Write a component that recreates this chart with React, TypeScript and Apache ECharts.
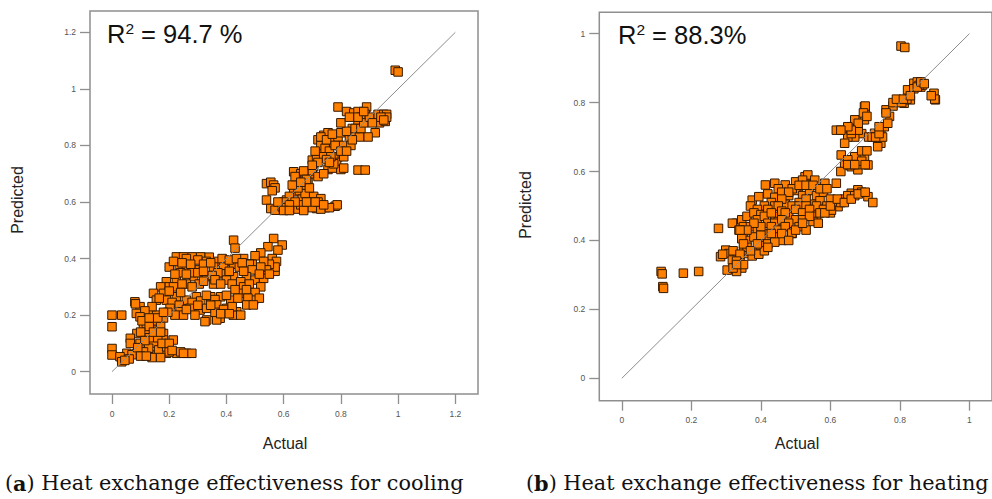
import React, { useEffect, useRef } from "react";
import * as echarts from "echarts";

// ---------- data ----------
const leftTicks = [0, 0.2, 0.4, 0.6, 0.8, 1, 1.2];
const rightTicks = [0, 0.2, 0.4, 0.6, 0.8, 1];
const leftDiag = [[0, 0], [1.2, 1.2]];
const rightDiag = [[0, 0], [1, 1]];
const leftR2 = "94.7 %";
const rightR2 = "88.3%";
const captionA = ") Heat exchange effectiveness for cooling";
const captionB = ") Heat exchange effectiveness for heating";

// [actual, predicted] – cooling
const leftPoints = [
  [0.99, 1.066], [1.0, 1.06],
  [0.79, 0.936], [0.82, 0.92], [0.845, 0.915], [0.86, 0.92], [0.89, 0.936], [0.885, 0.91], [0.87, 0.9],
  [0.93, 0.91], [0.95, 0.91], [0.96, 0.91], [0.935, 0.88], [0.955, 0.885], [0.96, 0.9], [0.92, 0.845],
  [0.895, 0.83], [0.86, 0.885], [0.84, 0.86],
  [0.74, 0.836], [0.755, 0.845], [0.72, 0.82], [0.73, 0.8], [0.725, 0.77], [0.745, 0.79], [0.76, 0.78],
  [0.775, 0.81], [0.79, 0.83], [0.8, 0.845], [0.82, 0.85], [0.83, 0.82], [0.85, 0.84], [0.865, 0.83],
  [0.81, 0.8], [0.835, 0.8], [0.79, 0.76], [0.805, 0.765], [0.785, 0.74], [0.755, 0.715], [0.77, 0.72],
  [0.8, 0.715], [0.81, 0.72], [0.86, 0.713], [0.885, 0.713], [0.7, 0.748], [0.705, 0.725], [0.715, 0.75],
  [0.775, 0.735], [0.81, 0.76], [0.74, 0.76], [0.765, 0.76],
  [0.73, 0.83], [0.75, 0.82], [0.77, 0.84], [0.78, 0.8], [0.8, 0.78], [0.82, 0.78], [0.84, 0.82],
  [0.85, 0.86], [0.87, 0.86], [0.88, 0.88], [0.9, 0.9], [0.91, 0.88], [0.94, 0.9], [0.95, 0.89],
  [0.8, 0.88], [0.83, 0.9], [0.86, 0.9], [0.88, 0.92], [0.75, 0.75], [0.76, 0.74], [0.72, 0.74], [0.71, 0.78],
  [0.635, 0.707], [0.66, 0.7], [0.675, 0.69], [0.645, 0.677], [0.685, 0.67], [0.69, 0.7], [0.7, 0.71],
  [0.54, 0.665], [0.555, 0.67], [0.565, 0.66], [0.57, 0.65], [0.56, 0.64], [0.635, 0.636], [0.655, 0.64],
  [0.665, 0.61], [0.61, 0.607], [0.635, 0.583], [0.705, 0.62], [0.73, 0.612], [0.68, 0.583], [0.715, 0.577],
  [0.745, 0.58], [0.78, 0.585], [0.787, 0.59], [0.54, 0.607], [0.555, 0.577], [0.57, 0.571], [0.595, 0.583],
  [0.61, 0.571], [0.65, 0.575], [0.66, 0.59], [0.69, 0.6], [0.7, 0.58], [0.73, 0.575], [0.76, 0.58],
  [0.62, 0.62], [0.6, 0.6], [0.64, 0.6], [0.675, 0.63], [0.72, 0.6], [0.67, 0.66], [0.65, 0.65], [0.69, 0.65],
  [0.6, 0.58], [0.62, 0.59], [0.58, 0.6], [0.63, 0.66], [0.64, 0.69], [0.67, 0.71], [0.7, 0.73],
  [0.68, 0.68], [0.66, 0.67], [0.72, 0.69], [0.74, 0.7], [0.71, 0.6], [0.74, 0.59], [0.67, 0.57],
  [0.6, 0.57], [0.62, 0.57], [0.68, 0.6],
  [0.425, 0.465], [0.43, 0.437],
  [0.565, 0.471], [0.595, 0.448], [0.58, 0.43], [0.545, 0.442], [0.52, 0.42], [0.5, 0.41], [0.56, 0.4],
  [0.575, 0.39], [0.57, 0.355], [0.57, 0.37], [0.55, 0.38], [0.53, 0.39], [0.51, 0.36], [0.49, 0.38], [0.54, 0.36],
  [0.225, 0.406], [0.25, 0.406], [0.28, 0.406], [0.31, 0.406], [0.34, 0.405], [0.26, 0.4], [0.3, 0.395],
  [0.33, 0.39], [0.37, 0.39], [0.4, 0.39], [0.44, 0.39], [0.46, 0.4], [0.47, 0.38],
  [0.2, 0.37], [0.235, 0.375], [0.26, 0.37], [0.305, 0.36], [0.355, 0.37], [0.39, 0.375], [0.425, 0.38],
  [0.445, 0.37], [0.48, 0.38], [0.49, 0.36], [0.52, 0.37], [0.425, 0.336], [0.47, 0.336], [0.38, 0.346],
  [0.33, 0.336], [0.285, 0.336], [0.225, 0.324], [0.19, 0.318], [0.2, 0.3], [0.26, 0.31], [0.305, 0.31],
  [0.355, 0.31], [0.4, 0.324], [0.45, 0.318], [0.5, 0.324], [0.37, 0.35], [0.41, 0.355], [0.28, 0.35],
  [0.24, 0.35], [0.35, 0.34],
  [0.215, 0.39], [0.245, 0.385], [0.275, 0.38], [0.32, 0.38], [0.345, 0.385], [0.385, 0.4], [0.41, 0.395],
  [0.435, 0.4], [0.455, 0.385], [0.3, 0.35], [0.32, 0.355], [0.26, 0.345], [0.22, 0.345], [0.215, 0.3],
  [0.245, 0.31], [0.28, 0.3], [0.32, 0.32], [0.36, 0.325], [0.38, 0.31], [0.42, 0.31], [0.46, 0.3],
  [0.48, 0.31], [0.17, 0.3], [0.53, 0.33], [0.55, 0.345], [0.515, 0.345], [0.46, 0.355], [0.52, 0.3], [0.5, 0.28],
  [0.145, 0.277], [0.18, 0.277], [0.155, 0.253], [0.19, 0.253], [0.225, 0.265], [0.26, 0.253], [0.295, 0.265],
  [0.345, 0.265], [0.38, 0.265], [0.415, 0.253], [0.45, 0.277], [0.495, 0.253], [0.515, 0.26], [0.2, 0.285],
  [0.24, 0.28], [0.47, 0.29], [0.43, 0.29],
  [0.165, 0.26], [0.21, 0.245], [0.235, 0.235], [0.28, 0.245], [0.31, 0.25], [0.33, 0.27], [0.36, 0.255],
  [0.4, 0.27], [0.44, 0.26], [0.475, 0.26],
  [0.098, 0.23], [0.085, 0.206], [0.133, 0.212], [0.156, 0.2], [0.203, 0.224], [0.238, 0.212], [0.273, 0.224],
  [0.308, 0.218], [0.331, 0.224], [0.366, 0.236], [0.401, 0.224], [0.436, 0.212], [0.471, 0.236], [0.494, 0.236],
  [0.331, 0.183], [0.378, 0.189], [0.424, 0.2], [0.325, 0.177], [0.366, 0.183], [0.25, 0.2], [0.29, 0.2],
  [0.18, 0.19], [0.36, 0.21], [0.45, 0.2], [0.345, 0.235],
  [0.39, 0.22], [0.42, 0.23], [0.38, 0.205], [0.41, 0.205], [0.22, 0.2], [0.26, 0.22], [0.3, 0.235],
  [0.195, 0.21], [0.14, 0.23], [0.115, 0.215],
  [0.08, 0.247], [0.082, 0.24], [0, 0.2], [0.034, 0.2], [0, 0.159], [0, 0.082], [0, 0.059],
  [0.098, 0.194], [0.11, 0.159], [0.087, 0.135], [0.121, 0.135], [0.156, 0.147], [0.18, 0.135], [0.098, 0.1],
  [0.145, 0.1], [0.18, 0.112], [0.214, 0.112], [0.064, 0.118], [0.064, 0.1], [0.128, 0.065], [0.156, 0.059],
  [0.087, 0.065], [0.052, 0.065], [0.028, 0.053], [0.034, 0.035], [0.191, 0.065], [0.226, 0.065],
  [0.261, 0.065], [0.279, 0.065], [0.163, 0.077], [0.191, 0.088], [0.128, 0.083], [0.12, 0.17], [0.15, 0.18],
  [0.17, 0.16], [0.16, 0.12], [0.13, 0.12], [0.2, 0.07], [0.24, 0.07], [0.11, 0.07], [0.14, 0.05],
  [0.17, 0.05], [0.07, 0.06],
  [0.105, 0.18], [0.13, 0.16], [0.145, 0.14], [0.17, 0.14], [0.1, 0.14], [0.115, 0.11], [0.175, 0.1],
  [0.2, 0.1], [0.21, 0.075], [0.25, 0.065], [0.09, 0.085], [0.1, 0.055], [0.12, 0.055], [0.06, 0.045],
  [0.045, 0.04], [0.16, 0.19], [0.18, 0.21], [0.13, 0.19],
];

// [actual, predicted] – heating
const rightPoints = [
  [0.803, 0.964], [0.814, 0.96],
  [0.113, 0.31], [0.116, 0.303], [0.118, 0.266], [0.12, 0.261], [0.177, 0.305], [0.221, 0.31],
  [0.284, 0.353], [0.299, 0.372], [0.308, 0.362], [0.318, 0.343], [0.303, 0.314], [0.327, 0.319],
  [0.337, 0.324], [0.345, 0.32], [0.33, 0.31], [0.365, 0.362], [0.356, 0.382], [0.34, 0.35], [0.32, 0.37],
  [0.35, 0.37], [0.278, 0.435], [0.29, 0.36],
  [0.413, 0.561], [0.44, 0.566], [0.47, 0.561], [0.508, 0.556], [0.527, 0.585], [0.535, 0.59], [0.555, 0.575],
  [0.584, 0.566], [0.617, 0.566], [0.5, 0.57], [0.45, 0.55], [0.52, 0.575],
  [0.375, 0.517], [0.394, 0.527], [0.42, 0.535], [0.44, 0.525], [0.46, 0.54], [0.48, 0.53], [0.5, 0.545],
  [0.52, 0.53], [0.54, 0.545], [0.56, 0.53], [0.58, 0.54], [0.6, 0.52], [0.43, 0.51], [0.47, 0.505],
  [0.51, 0.51], [0.55, 0.505], [0.57, 0.515], [0.59, 0.5], [0.41, 0.5], [0.53, 0.52],
  [0.49, 0.55], [0.51, 0.56], [0.53, 0.56], [0.55, 0.56], [0.57, 0.55], [0.59, 0.55], [0.48, 0.54],
  [0.46, 0.52], [0.44, 0.5], [0.37, 0.5], [0.39, 0.49], [0.45, 0.5], [0.49, 0.5], [0.51, 0.5],
  [0.53, 0.5], [0.55, 0.49], [0.56, 0.5],
  [0.33, 0.45], [0.345, 0.46], [0.36, 0.47], [0.38, 0.48], [0.4, 0.475], [0.42, 0.49], [0.44, 0.47],
  [0.46, 0.485], [0.48, 0.47], [0.5, 0.49], [0.52, 0.48], [0.54, 0.49], [0.56, 0.47], [0.58, 0.49],
  [0.6, 0.48], [0.39, 0.46], [0.45, 0.455], [0.5, 0.46], [0.55, 0.455], [0.565, 0.45], [0.35, 0.44],
  [0.41, 0.47], [0.43, 0.48], [0.47, 0.48], [0.57, 0.48], [0.42, 0.45], [0.44, 0.45], [0.46, 0.46],
  [0.48, 0.45], [0.52, 0.46], [0.54, 0.47],
  [0.318, 0.45], [0.337, 0.43], [0.35, 0.42], [0.37, 0.44], [0.39, 0.43], [0.41, 0.42], [0.43, 0.44],
  [0.45, 0.43], [0.47, 0.44], [0.49, 0.42], [0.51, 0.44], [0.53, 0.43], [0.36, 0.4], [0.38, 0.41],
  [0.4, 0.4], [0.42, 0.405], [0.44, 0.41], [0.46, 0.4], [0.489, 0.421], [0.345, 0.405],
  [0.4, 0.44], [0.38, 0.45], [0.36, 0.43], [0.34, 0.43], [0.4, 0.415], [0.43, 0.42], [0.46, 0.42],
  [0.48, 0.4], [0.5, 0.43], [0.52, 0.45],
  [0.36, 0.38], [0.38, 0.37], [0.4, 0.385], [0.42, 0.39], [0.44, 0.395], [0.375, 0.355], [0.394, 0.36],
  [0.35, 0.39], [0.41, 0.37], [0.42, 0.38], [0.39, 0.39], [0.37, 0.37], [0.34, 0.36], [0.33, 0.34],
  [0.32, 0.32], [0.35, 0.33], [0.33, 0.33],
  [0.622, 0.498], [0.641, 0.52], [0.66, 0.537], [0.679, 0.547], [0.69, 0.54], [0.708, 0.527], [0.722, 0.51],
  [0.603, 0.488], [0.584, 0.48], [0.65, 0.53], [0.67, 0.53], [0.63, 0.51],
  [0.6, 0.5], [0.62, 0.52], [0.64, 0.51], [0.66, 0.52], [0.68, 0.535], [0.7, 0.54],
  [0.617, 0.72], [0.641, 0.72], [0.66, 0.73], [0.679, 0.73], [0.698, 0.788], [0.7, 0.77], [0.698, 0.75],
  [0.69, 0.71], [0.67, 0.7], [0.65, 0.7], [0.641, 0.682], [0.631, 0.648], [0.641, 0.619], [0.66, 0.614],
  [0.679, 0.605], [0.708, 0.619], [0.698, 0.643], [0.67, 0.643], [0.65, 0.634], [0.69, 0.66], [0.68, 0.72],
  [0.67, 0.75], [0.66, 0.71], [0.727, 0.711], [0.736, 0.692], [0.745, 0.72], [0.755, 0.73], [0.745, 0.682],
  [0.736, 0.672], [0.75, 0.7], [0.76, 0.779], [0.77, 0.76], [0.765, 0.74], [0.793, 0.808], [0.812, 0.798],
  [0.83, 0.808], [0.822, 0.837], [0.84, 0.856], [0.85, 0.86], [0.86, 0.845], [0.865, 0.851], [0.855, 0.85],
  [0.84, 0.84], [0.898, 0.827], [0.902, 0.808], [0.9, 0.81], [0.805, 0.8], [0.82, 0.81], [0.78, 0.79],
  [0.63, 0.6], [0.66, 0.62], [0.68, 0.62], [0.69, 0.63], [0.7, 0.62], [0.705, 0.66], [0.71, 0.7],
  [0.72, 0.7], [0.73, 0.7], [0.74, 0.71], [0.74, 0.73], [0.7, 0.79], [0.695, 0.77], [0.705, 0.76],
  [0.68, 0.74], [0.66, 0.72], [0.65, 0.73], [0.63, 0.72], [0.76, 0.77], [0.78, 0.8], [0.79, 0.81],
  [0.81, 0.81], [0.83, 0.82], [0.85, 0.845], [0.86, 0.86], [0.87, 0.855], [0.89, 0.82], [0.65, 0.62],
  [0.67, 0.62],
];

// ---------- styles ----------
const SANS = "Liberation Sans, Arial, sans-serif";
const SERIF = "DejaVu Serif, serif";
const BOX = "#8f8f8f";

function makeXAxis(gridIndex: number, min: number, max: number, ticks: number[]) {
  return {
    gridIndex,
    type: "value",
    min,
    max,
    splitLine: { show: false },
    axisLine: { show: false, onZero: false },
    axisTick: { show: true, inside: false, length: 10, customValues: ticks, lineStyle: { color: BOX, width: 1.3 } },
    axisLabel: { customValues: ticks, margin: 15, fontSize: 8.5, color: "#555", fontFamily: SANS },
  };
}
function makeYAxis(gridIndex: number, min: number, max: number, ticks: number[]) {
  return {
    gridIndex,
    type: "value",
    min,
    max,
    splitLine: { show: false },
    axisLine: { show: false, onZero: false },
    axisTick: { show: true, inside: false, length: 10, customValues: ticks, lineStyle: { color: BOX, width: 1.3 } },
    axisLabel: { customValues: ticks, margin: 14, fontSize: 8.5, color: "#555", fontFamily: SANS },
  };
}
const scatterStyle = { color: "#FF8000", borderColor: "#341800", borderWidth: 1, opacity: 1 };

function r2Text(x: number, y: number, value: string) {
  return {
    type: "text",
    x,
    y,
    style: {
      text: "{r|R}{s|2}{r| = " + value + "}",
      rich: {
        r: { fontSize: 25.5, fontFamily: SANS, fill: "#111", lineHeight: 28 },
        s: { fontSize: 15.5, fontFamily: SANS, fill: "#111", lineHeight: 28, verticalAlign: "top" },
      },
      textAlign: "left",
      textVerticalAlign: "middle",
      align: "left",
      verticalAlign: "middle",
    },
  };
}
function caption(x: number, y: number, letter: string, rest: string) {
  return {
    type: "text",
    x,
    y,
    style: {
      text: "{n|(}{b|" + letter + "}{n|" + rest + "}",
      rich: {
        n: { fontSize: 20.8, fontFamily: SERIF, fill: "#111" },
        b: { fontSize: 20.8, fontFamily: SERIF, fontWeight: "bold", fill: "#111" },
      },
      textAlign: "left",
      textVerticalAlign: "middle",
      align: "left",
      verticalAlign: "middle",
    },
  };
}
function label(x: number, y: number, text: string, rotation = 0) {
  return {
    type: "text",
    x,
    y,
    rotation,
    style: {
      text,
      fontSize: 16,
      fontFamily: SANS,
      fill: "#222",
      textAlign: "center",
      textVerticalAlign: "middle",
      align: "center",
      verticalAlign: "middle",
    },
  };
}

export default function App() {
  const ref = useRef<HTMLDivElement>(null);
  useEffect(() => {
    if (!ref.current) return;
    const chart = echarts.init(ref.current, null, { renderer: "svg" });
    chart.setOption({
      animation: false,
      backgroundColor: "#fff",
      grid: [
        { left: 90, top: 11, width: 388, height: 383, show: true, borderColor: BOX, borderWidth: 1.5, backgroundColor: "transparent" },
        { left: 599.3, top: 12.3, width: 395.7, height: 388.4, show: true, borderColor: BOX, borderWidth: 1.5, backgroundColor: "transparent" },
      ],
      xAxis: [makeXAxis(0, -0.0769, 1.2793, leftTicks), makeXAxis(1, -0.0648, 1.0648, rightTicks)],
      yAxis: [makeYAxis(0, -0.0789, 1.2755, leftTicks), makeYAxis(1, -0.065, 1.062, rightTicks)],
      series: [
        { type: "scatter", xAxisIndex: 0, yAxisIndex: 0, symbol: "rect", symbolSize: 8.5, itemStyle: scatterStyle, data: leftPoints, z: 2, silent: true },
        { type: "line", xAxisIndex: 0, yAxisIndex: 0, data: leftDiag, symbol: "none", lineStyle: { color: "#8c8c8c", width: 1 }, z: 3, silent: true },
        { type: "scatter", xAxisIndex: 1, yAxisIndex: 1, symbol: "rect", symbolSize: 8.5, itemStyle: scatterStyle, data: rightPoints, z: 2, silent: true },
        { type: "line", xAxisIndex: 1, yAxisIndex: 1, data: rightDiag, symbol: "none", lineStyle: { color: "#8c8c8c", width: 1 }, z: 3, silent: true },
      ],
      graphic: [
        r2Text(107, 34, leftR2),
        r2Text(618, 35, rightR2),
        label(17, 200, "Predicted", Math.PI / 2),
        label(525, 205, "Predicted", Math.PI / 2),
        label(285, 443, "Actual"),
        label(797, 443, "Actual"),
        caption(5, 483, "a", captionA),
        caption(526, 483, "b", captionB),
      ],
    });
    return () => chart.dispose();
  }, []);
  return <div ref={ref} style={{ position: "fixed", left: 0, top: 0, width: 992, height: 499 }} />;
}
